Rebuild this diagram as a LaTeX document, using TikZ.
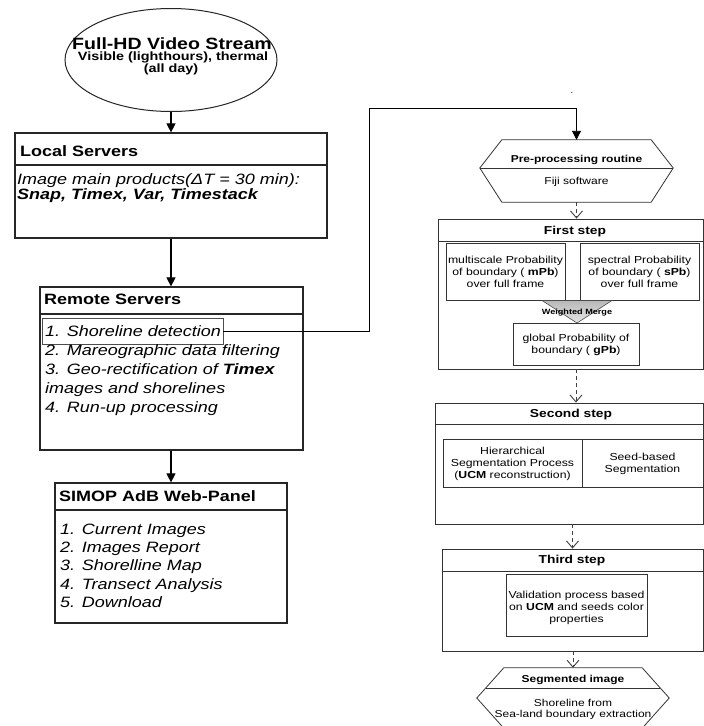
\documentclass[tikz,border=0pt]{standalone}
\usepackage{fontspec}
\setmainfont{Liberation Sans}[FakeStretch=1.2]
\usetikzlibrary{arrows.meta,shapes.geometric}
\begin{document}
\begin{tikzpicture}[x=1pt,y=-1pt,
  box/.style={draw=black!85, line width=1.2pt, inner sep=0},
  rbox/.style={draw=black!80, line width=0.8pt, inner sep=0},
  lbl/.style={inner sep=0, anchor=base west, align=left},
  clbl/.style={inner sep=0, anchor=base, align=center},
  ttl/.style={font=\fontsize{15}{15}\selectfont\bfseries},
  itm/.style={font=\fontsize{15}{19.2}\selectfont\itshape},
  rttl/.style={font=\fontsize{11.5}{12}\selectfont\bfseries},
  rtxt/.style={font=\fontsize{10.2}{12.2}\selectfont},
  solidarrow/.style={draw=black, line width=1.1pt, -{Triangle[length=9pt,width=9pt]}},
  dasharrow/.style={draw=black!75, line width=0.9pt, dash pattern=on 4pt off 3pt, -{Straight Barb[length=7pt,width=12pt]}},
]
\useasboundingbox (0,0) rectangle (704,726);
\fill[white] (0,0) rectangle (704,726);

% ---------- left column ----------
\node[draw=black!85, line width=1pt, ellipse, minimum width=212pt, minimum height=103pt, inner sep=0] (video) at (171,60) {};
\node[clbl, font=\fontsize{16.3}{16}\selectfont\bfseries] (vt1) at (172,49) {Full-HD Video Stream};
\node[clbl, font=\fontsize{12}{12}\selectfont\bfseries] (vt2) at (173,60.5) {Visible (lighthours), thermal};
\node[clbl, font=\fontsize{12}{12}\selectfont\bfseries] (vt3) at (171,72) {(all day)};

\node[box, minimum width=312pt, minimum height=105pt] (local) at (171,185.5) {};
\draw[box] (local.west |- 0,165) -- (local.east |- 0,165);
\node[lbl, ttl] (localt) at (20,156) {Local Servers};
\node[lbl, font=\fontsize{15}{13}\selectfont\itshape] (localb) at (17,199) {Image main products(ΔT = 30 min):\\\textbf{Snap, Timex, Var, Timestack}};

\node[box, minimum width=263pt, minimum height=163pt] (remote) at (171.5,368.5) {};
\draw[box] (remote.west |- 0,314) -- (remote.east |- 0,314);
\node[lbl, ttl] (remotet) at (44,304) {Remote Servers};
\node[rbox, draw=black!70, minimum width=181pt, minimum height=26pt] (shore) at (132.5,331) {};
\node[lbl, itm] (remoteb) at (45,412.8) {1. Shoreline detection\\2. Mareographic data filtering\\3. Geo-rectification of \textbf{Timex}\\images and shorelines\\4. Run-up processing};

\node[box, minimum width=232pt, minimum height=140pt] (simop) at (171,553) {};
\draw[box] (simop.west |- 0,510) -- (simop.east |- 0,510);
\node[lbl, ttl] (simopt) at (59,501.7) {SIMOP AdB Web-Panel};
\node[lbl, font=\fontsize{15}{18.4}\selectfont\itshape] (simopb) at (60,607.6) {1. Current Images\\2. Images Report\\3. Shorelline Map\\4. Transect Analysis\\5. Download};

\draw[solidarrow] (video.south) -- (local.north);
\draw[solidarrow] (local.south) -- (local.south |- remote.north);
\draw[solidarrow] (simop.north |- remote.south) -- (simop.north);

% ---------- right column ----------
\node[inner sep=0, minimum width=193pt, minimum height=62pt] (pre) at (576.5,171) {};
\draw[rbox] ([xshift=22pt]pre.north west) -- ([xshift=-22pt]pre.north east) -- (pre.east |- 0,168)
  -- ([xshift=-22pt]pre.south east) -- ([xshift=22pt]pre.south west) -- (pre.west |- 0,168) -- cycle;
\draw[rbox] (pre.west |- 0,168) -- (pre.east |- 0,168);
\node[clbl, font=\fontsize{10}{10}\selectfont\bfseries] (pret) at (576.5,162) {Pre-processing routine};
\node[clbl, font=\fontsize{10}{10}\selectfont] (preb) at (576.5,184) {Fiji software};

\node[font=\fontsize{8}{8}\selectfont, inner sep=0] (dot) at (572,93) {.};
\coordinate (c1) at (369,108);
\draw[solidarrow, line width=0.9pt] (shore.east) -| (c1) -| (pre.north);

\node[rbox, minimum width=265pt, minimum height=150pt] (first) at (570.5,294) {};
\draw[rbox] (first.west |- 0,241) -- (first.east |- 0,241);
\node[clbl, rttl] (firstt) at (575,234) {First step};
\node[rbox, minimum width=119pt, minimum height=57pt] (mpb) at (505.5,271.5) {};
\node[rbox, minimum width=119pt, minimum height=57pt] (spb) at (639.5,271.5) {};
\node[clbl, rtxt] (mpbt) at (505.5,287.4) {multiscale Probability\\of boundary ( \textbf{mPb})\\over full frame};
\node[clbl, rtxt] (spbt) at (639.5,287.4) {spectral Probability\\of boundary ( \textbf{sPb})\\over full frame};
\coordinate (m1) at (542,300.5);
\coordinate (m2) at (612,300.5);
\coordinate (m3) at (577,323);
\draw[draw=black!70, line width=0.6pt, top color=black!28, bottom color=black!10] (m1) -- (m2) -- (m3) -- cycle;
\node[clbl, font=\fontsize{7.6}{8}\selectfont\bfseries] (wm) at (577,314) {Weighted Merge};
\node[rbox, minimum width=126pt, minimum height=42pt] (gpb) at (576,344) {};
\node[clbl, rtxt] (gpbt) at (576,353.2) {global Probability of\\boundary ( \textbf{gPb})};

\node[rbox, minimum width=268pt, minimum height=121pt] (second) at (569,463.5) {};
\draw[rbox] (second.west |- 0,424) -- (second.east |- 0,424);
\node[clbl, rttl] (secondt) at (571,417) {Second step};
\node[rbox, minimum width=139pt, minimum height=48pt] (hier) at (512.5,463) {};
\node[rbox, minimum width=121pt, minimum height=48pt] (seed) at (642.5,463) {};
\node[clbl, rtxt] (hiert) at (512.5,478.4) {Hierarchical\\Segmentation Process\\(\textbf{UCM} reconstruction)};
\node[clbl, rtxt] (seedt) at (642.5,472.2) {Seed-based\\Segmentation};

\node[rbox, minimum width=261pt, minimum height=102pt] (third) at (572.5,600) {};
\draw[rbox] (third.west |- 0,571) -- (third.east |- 0,571);
\node[clbl, rttl] (thirdt) at (572,563) {Third step};
\node[rbox, minimum width=141pt, minimum height=62pt] (valid) at (576.5,605) {};
\node[clbl, rtxt] (validt) at (576.5,622.4) {Validation process based\\on \textbf{UCM} and seeds color\\properties};

\node[inner sep=0, minimum width=192pt, minimum height=60pt] (seg) at (573,698) {};
\draw[rbox] ([xshift=27pt]seg.north west) -- ([xshift=-27pt]seg.north east) -- (seg.east)
  -- ([xshift=-27pt]seg.south east) -- ([xshift=27pt]seg.south west) -- (seg.west) -- cycle;
\draw[rbox] (486,688) -- (660,688);
\node[clbl, font=\fontsize{10}{10}\selectfont\bfseries] (segt) at (573,682) {Segmented image};
\node[clbl, font=\fontsize{10}{11}\selectfont] (segb) at (573,717) {Shoreline from\\Sea-land boundary extraction};

\draw[dasharrow] (pre.south) -- (pre.south |- first.north);
\draw[dasharrow] (gpb.south |- first.south) -- (gpb.south |- second.north);
\draw[dasharrow] (third.north |- second.south) -- (third.north);
\draw[dasharrow] (seg.north |- third.south) -- (seg.north);
\end{tikzpicture}
\end{document}
